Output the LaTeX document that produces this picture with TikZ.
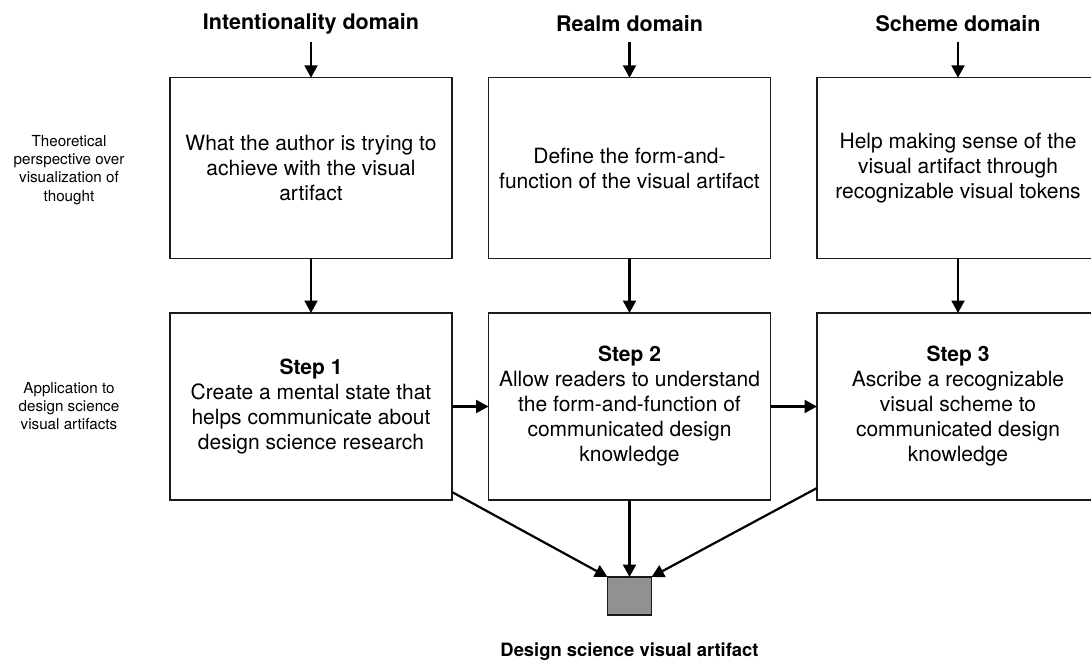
\documentclass[tikz,border=0pt]{standalone}
\usepackage{fontspec}
\setmainfont{TeX Gyre Heros}
\usetikzlibrary{arrows.meta}
\definecolor{boxline}{HTML}{1A1A1A}
\definecolor{artifactfill}{HTML}{919191}
\begin{document}
\begin{tikzpicture}[x=1pt,y=-1pt,
  box/.style={draw=boxline, line width=1.3pt, minimum width=282pt,
    align=center, inner sep=0pt, outer sep=0pt,
    font=\fontsize{21}{25}\selectfont},
  topbox/.style={box, minimum height=180.5pt},
  stepbox/.style={box, minimum height=187pt},
  heading/.style={font=\fontsize{21.5}{24}\selectfont\bfseries, inner sep=0pt},
  sidelabel/.style={align=center, inner sep=0pt, font=\fontsize{15.2}{18.2}\selectfont},
  conn/.style={line width=2.2pt, -{Triangle[width=13pt,length=12.5pt]}},
  artifact/.style={draw=boxline, line width=1.2pt, fill=artifactfill,
    minimum width=44pt, minimum height=38pt, inner sep=0pt, outer sep=0pt}
]
\useasboundingbox (0,0) rectangle (1091,661);
\clip (0,0) rectangle (1091,661);

% domain headings
\node[heading] (t1) at (311,24) {Intentionality domain};
\node[heading] (t2) at (629.5,24) {Realm domain};
\node[heading] (t3) at (958,24) {Scheme domain};
\coordinate (i1) at (311,42);
\coordinate (i2) at (629.5,42);
\coordinate (i3) at (958,42);

% row labels
\node[sidelabel] (r1) at (69,170) {Theoretical\\perspective over\\visualization of\\thought};
\node[sidelabel] (r2) at (69,406) {Application to\\design science\\visual artifacts};

% theoretical perspective
\node[topbox] (a1) at (311,168) {What the author is trying to\\achieve with the visual\\artifact};
\node[topbox] (a2) at (629.5,168) {Define the form-and-\\function of the visual artifact};
\node[topbox] (a3) at (958,168) {Help making sense of the\\visual artifact through\\recognizable visual tokens};

% application steps
\node[stepbox] (b1) at (311,406.5) {\textbf{Step 1}\\Create a mental state that\\helps communicate about\\design science research};
\node[stepbox] (b2) at (629.5,406.5) {\textbf{Step 2}\\Allow readers to understand\\the form-and-function of\\communicated design\\knowledge};
\node[stepbox] (b3) at (958,406.5) {\textbf{Step 3}\\Ascribe a recognizable\\visual scheme to\\communicated design\\knowledge};

% resulting artifact
\node[artifact] (sq) at (629.5,596) {};
\node[font=\fontsize{18.4}{20}\selectfont\bfseries, inner sep=0pt] (lbl) at (629.5,652) {Design science visual artifact};

% connectors
\draw[conn] (i1) -- (a1.north);
\draw[conn] (i2) -- (a2.north);
\draw[conn] (i3) -- (a3.north);
\draw[conn] (a1.south) -- (b1.north);
\draw[conn] (a2.south) -- (b2.north);
\draw[conn] (a3.south) -- (b3.north);
\draw[conn] (b1.east) -- (b2.west);
\draw[conn] (b2.east) -- (b3.west);
\draw[conn] ([yshift=8pt]b1.south east) -- (sq.north west);
\draw[conn] (b2.south) -- (sq.north);
\draw[conn] ([yshift=12pt]b3.south west) -- (sq.north east);
\end{tikzpicture}
\end{document}
